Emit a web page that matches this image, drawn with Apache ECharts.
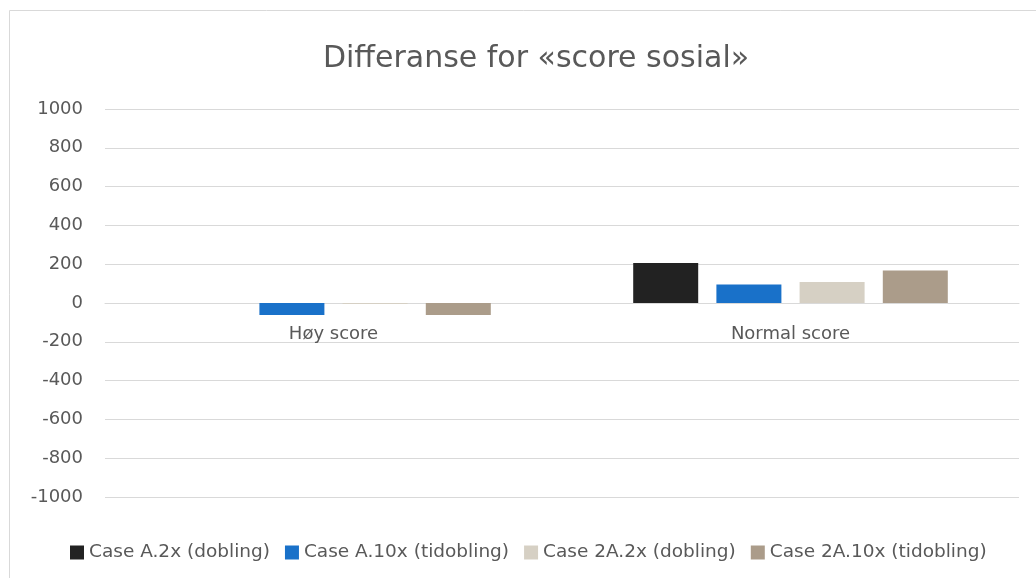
<!DOCTYPE html>
<html>
<head>
<meta charset="utf-8">
<script src="https://cdn.jsdelivr.net/npm/echarts@6/dist/echarts.min.js"></script>
<style>
  html, body { margin: 0; padding: 0; background: #fff; }
  #chart { width: 1036px; height: 578px; }
</style>
</head>
<body>
<div id="chart"></div>
<script>
const categories = ['Høy score', 'Normal score'];
const seriesNames = ['Case A.2x (dobling)', 'Case A.10x (tidobling)', 'Case 2A.2x (dobling)', 'Case 2A.10x (tidobling)'];
const caseA2x = [0, 206];
const caseA10x = [-62, 96];
const case2A2x = [-5, 108];
const case2A10x = [-62, 168];
const colors = ['#222222', '#1971c9', '#d6d0c4', '#ab9c8a'];

var font = '"DejaVu Sans", sans-serif';
var myChart = echarts.init(document.getElementById('chart'));
var option = {
    animation: false,
    color: colors,
    textStyle: { fontFamily: font },
    graphic: [{
        type: 'rect',
        shape: { x: 9.5, y: 10.5, width: 1200, height: 800 },
        style: { fill: 'none', stroke: '#d9d9d9', lineWidth: 1 },
        silent: true
    }],
    title: {
        text: 'Differanse for «score sosial»',
        left: 531,
        top: 39,
        textAlign: 'center',
        textStyle: { fontFamily: font, fontSize: 30, fontWeight: 'normal', color: '#595959' }
    },
    legend: {
        data: seriesNames,
        left: 65,
        top: 538,
        itemWidth: 14,
        itemHeight: 14,
        itemGap: 15,
        icon: 'rect',
        textStyle: { fontFamily: font, fontSize: 18.5, color: '#595959' }
    },
    grid: {
        left: 105,
        right: 17,
        top: 109,
        bottom: 81,
        containLabel: false
    },
    xAxis: {
        type: 'category',
        data: categories,
        offset: -194,
        axisLine: { onZero: false, lineStyle: { color: '#d9d9d9' } },
        axisTick: { show: false },
        axisLabel: { fontFamily: font, fontSize: 18, color: '#595959', margin: 22 }
    },
    yAxis: {
        type: 'value',
        min: -1000,
        max: 1000,
        interval: 200,
        axisLine: { show: false },
        axisTick: { show: false },
        axisLabel: {
            fontFamily: font, fontSize: 18, color: '#595959', margin: 22,
            formatter: function (v) { return String(v); }
        },
        splitLine: { lineStyle: { color: '#d9d9d9', width: 1 } }
    },
    series: [
        { name: seriesNames[0], type: 'bar', data: caseA2x, barWidth: 65, barGap: '28%' },
        { name: seriesNames[1], type: 'bar', data: caseA10x, barWidth: 65, barGap: '28%' },
        { name: seriesNames[2], type: 'bar', data: case2A2x, barWidth: 65, barGap: '28%' },
        { name: seriesNames[3], type: 'bar', data: case2A10x, barWidth: 65, barGap: '28%' }
    ]
};
myChart.setOption(option);
window.addEventListener('resize', function () {
    myChart.resize();
});
</script>
</body>
</html>
